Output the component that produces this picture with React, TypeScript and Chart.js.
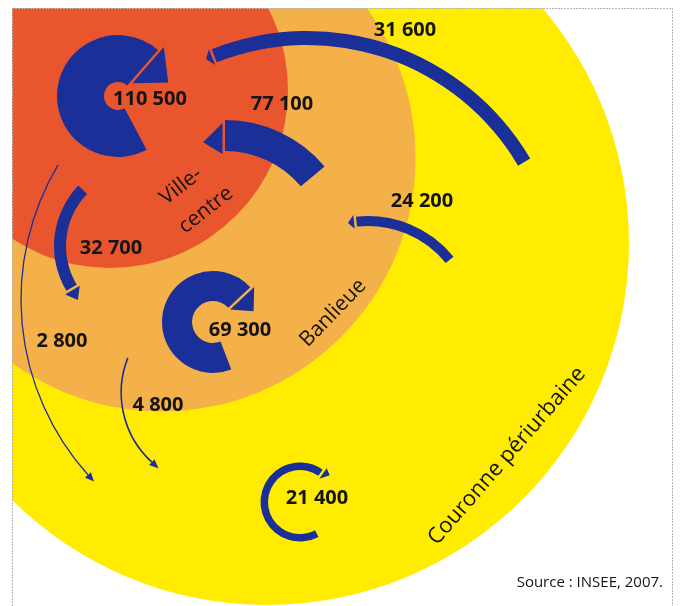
import React, { useEffect, useRef } from 'react';
import { Chart, registerables } from 'chart.js';

Chart.register(...registerables);

// ---- data ----
const zoneNames = ['Ville-centre', 'Banlieue', 'Couronne périurbaine'];
const flowValues = [110500, 77100, 31600, 24200, 32700, 69300, 2800, 4800, 21400];
const flowFrom = ['Ville-centre', 'Banlieue', 'Couronne périurbaine', 'Couronne périurbaine', 'Ville-centre', 'Banlieue', 'Ville-centre', 'Banlieue', 'Couronne périurbaine'];
const flowTo = ['Ville-centre', 'Ville-centre', 'Ville-centre', 'Banlieue', 'Banlieue', 'Banlieue', 'Couronne périurbaine', 'Couronne périurbaine', 'Couronne périurbaine'];
const sourceText = 'Source : INSEE, 2007.';

// ---- layout / style (not data) ----
const W = 683;
const H = 606;
const zoneColors = ['#E9552D', '#F4B049', '#FFEC00'];
const zoneGeom = [
  { cx: 110, cy: 90, r: 178 },
  { cx: 161.5, cy: 157.5, r: 254 },
  { cx: 267, cy: 243, r: 362 },
];
const zoneLabelGeom = [
  { lines: ['Ville-', 'centre'], pos: [[181, 186], [206, 210]], rot: -38, size: 21 },
  { lines: ['Banlieue'], pos: [[333, 313]], rot: -46, size: 21 },
  { lines: ['Couronne périurbaine'], pos: [[507, 456]], rot: -49, size: 22 },
];
const frame = { x0: 12, y0: 8, x1: 672, y1: 606 };
const BLUE = '#1B2F98';

type Geom = any;
const flowGeom: Geom[] = [
  { kind: 'band', cx: 118, cy: 96, rIn: 14, rOut: 61, a0: 62, a1: 311, head: 'end', hA: 19, hB: 67, tipDeg: 345, tipR: 52, lx: 150, ly: 99 },
  { kind: 'band', cx: 225, cy: 250, rIn: 99, rOut: 130, a0: -90, a1: -40, head: 'start', hA: 96, hB: 127, tipDeg: -101.5, tipR: 110, lx: 282, ly: 104 },
  { kind: 'band', cx: 307, cy: 290, rIn: 245, rOut: 259, a0: -111.6, a1: -30.5, head: 'start', hA: 243, hB: 260, tipDeg: -113.6, tipR: 252, lx: 405, ly: 30 },
  { kind: 'band', cx: 368, cy: 326, rIn: 100, rOut: 110, a0: -96.3, a1: -39, head: 'start', hA: 98, hB: 112, tipDeg: -101, tipR: 105, lx: 422, ly: 201 },
  { kind: 'band', cx: 141, cy: 246, rIn: 75, rOut: 87, a0: 149, a1: 224, head: 'start', hA: 73, hB: 90, tipDeg: 139.5, tipR: 83, lx: 111, ly: 248 },
  { kind: 'band', cx: 213, cy: 322, rIn: 21, rOut: 51, a0: 69, a1: 317, head: 'end', hA: 21, hB: 54, tipDeg: 345, tipR: 42, lx: 240, ly: 330 },
  { kind: 'line', cx: 284, cy: 299.5, r: 263, a0: 210.8, a1: 138.2, w: 1.3, lx: 62, ly: 341 },
  { kind: 'line', cx: 215.5, cy: 392.6, r: 94.3, a0: 201.6, a1: 132.5, w: 1.6, lx: 158, ly: 405 },
  { kind: 'band', cx: 300, cy: 502, rIn: 32, rOut: 39.5, a0: 62, a1: 305, head: 'end', hA: 30, hB: 43, tipDeg: 318, tipR: 40, lx: 317, ly: 498 },
];

const fmt = (v: number) => String(v).replace(/\B(?=(\d{3})+(?!\d))/g, ' ');
const rad = (d: number) => (d * Math.PI) / 180;

const diagramPlugin = {
  id: 'flowDiagram',
  beforeDatasetsDraw(chart: any) {
    const ctx = chart.ctx as CanvasRenderingContext2D;
    const xs = chart.scales.x;
    const ys = chart.scales.y;
    const px = (v: number) => xs.getPixelForValue(v);
    const py = (v: number) => ys.getPixelForValue(v);
    const pr = (r: number) => Math.abs(xs.getPixelForValue(r) - xs.getPixelForValue(0));
    const polar = (cx: number, cy: number, r: number, deg: number) => [
      px(cx) + pr(r) * Math.cos(rad(deg)),
      py(cy) + pr(r) * Math.sin(rad(deg)),
    ];

    ctx.save();
    // white page
    ctx.fillStyle = '#ffffff';
    ctx.fillRect(0, 0, chart.width, chart.height);

    // zones
    ctx.save();
    ctx.beginPath();
    ctx.rect(px(frame.x0), py(frame.y0), px(frame.x1) - px(frame.x0), py(frame.y1) - py(frame.y0));
    ctx.clip();
    for (let i = zoneNames.length - 1; i >= 0; i--) {
      const g = zoneGeom[i];
      ctx.beginPath();
      ctx.arc(px(g.cx), py(g.cy), pr(g.r), 0, Math.PI * 2);
      ctx.fillStyle = zoneColors[i];
      ctx.fill();
    }
    ctx.restore();

    // frame
    ctx.save();
    ctx.strokeStyle = '#b5b5b5';
    ctx.lineWidth = 1;
    ctx.setLineDash([2, 1]);
    ctx.beginPath();
    ctx.moveTo(px(frame.x0) + 0.5, py(frame.y1));
    ctx.lineTo(px(frame.x0) + 0.5, py(frame.y0) + 0.5);
    ctx.lineTo(px(frame.x1) + 0.5, py(frame.y0) + 0.5);
    ctx.lineTo(px(frame.x1) + 0.5, py(frame.y1));
    ctx.stroke();
    ctx.restore();

    // flows
    ctx.fillStyle = BLUE;
    ctx.strokeStyle = BLUE;
    flowValues.forEach((v, i) => {
      const g = flowGeom[i];
      const cx = px(g.cx);
      const cy = py(g.cy);
      if (g.kind === 'band') {
        ctx.beginPath();
        ctx.arc(cx, cy, pr(g.rOut), rad(g.a0), rad(g.a1), false);
        ctx.arc(cx, cy, pr(g.rIn), rad(g.a1), rad(g.a0), true);
        ctx.closePath();
        ctx.fill();
        // arrow head with a small gap
        const endDeg = g.head === 'end' ? g.a1 : g.a0;
        const sgn = g.head === 'end' ? 1 : -1;
        const t = [-Math.sin(rad(endDeg)) * sgn, Math.cos(rad(endDeg)) * sgn];
        const gap = 2.5;
        const b1 = polar(g.cx, g.cy, g.hA, endDeg);
        const b2 = polar(g.cx, g.cy, g.hB, endDeg);
        const tip = polar(g.cx, g.cy, g.tipR, g.tipDeg);
        ctx.beginPath();
        ctx.moveTo(b1[0] + t[0] * gap, b1[1] + t[1] * gap);
        ctx.lineTo(b2[0] + t[0] * gap, b2[1] + t[1] * gap);
        ctx.lineTo(tip[0], tip[1]);
        ctx.closePath();
        ctx.fill();
      } else {
        ctx.lineWidth = g.w;
        ctx.beginPath();
        ctx.arc(cx, cy, pr(g.r), rad(g.a0), rad(g.a1), g.a1 < g.a0);
        ctx.stroke();
        const sgn = g.a1 < g.a0 ? -1 : 1;
        const d = [-Math.sin(rad(g.a1)) * sgn, Math.cos(rad(g.a1)) * sgn];
        const e = polar(g.cx, g.cy, g.r, g.a1);
        const L = 9;
        const hw = 4;
        ctx.beginPath();
        ctx.moveTo(e[0] + d[0] * L, e[1] + d[1] * L);
        ctx.lineTo(e[0] - d[1] * hw, e[1] + d[0] * hw);
        ctx.lineTo(e[0] + d[1] * hw, e[1] - d[0] * hw);
        ctx.closePath();
        ctx.fill();
      }
    });

    // value labels
    ctx.fillStyle = '#141414';
    ctx.textAlign = 'center';
    ctx.textBaseline = 'middle';
    ctx.font = 'bold 20px "Open Sans"';
    flowValues.forEach((v, i) => {
      const g = flowGeom[i];
      ctx.fillText(fmt(v), px(g.lx), py(g.ly));
    });

    // zone labels
    zoneNames.forEach((name, i) => {
      const z = zoneLabelGeom[i];
      ctx.font = `${z.size}px "Open Sans"`;
      z.lines.forEach((line: string, j: number) => {
        ctx.save();
        ctx.translate(px(z.pos[j][0]), py(z.pos[j][1]));
        ctx.rotate(rad(z.rot));
        ctx.fillText(line, 0, 0);
        ctx.restore();
      });
    });

    // source
    ctx.font = '15px "Open Sans"';
    ctx.textAlign = 'right';
    ctx.textBaseline = 'alphabetic';
    ctx.fillText(sourceText, px(663), py(587));

    ctx.restore();
  },
};

export default function App() {
  const ref = useRef<HTMLCanvasElement | null>(null);
  useEffect(() => {
    document.body.style.margin = '0';
    if (!ref.current) return;
    const chart = new Chart(ref.current, {
      type: 'scatter',
      data: {
        datasets: [
          {
            label: 'flux',
            data: flowGeom.map((g) => ({ x: g.lx, y: g.ly })),
            pointRadius: 0,
            pointHoverRadius: 0,
            showLine: false,
          },
        ],
      },
      options: {
        responsive: false,
        animation: false,
        events: [],
        layout: { padding: 0 },
        plugins: { legend: { display: false }, tooltip: { enabled: false }, title: { display: false } },
        scales: {
          x: { type: 'linear', min: 0, max: W, display: false },
          y: { type: 'linear', min: 0, max: H, reverse: true, display: false },
        },
      },
      plugins: [diagramPlugin],
    });
    return () => chart.destroy();
  }, []);
  return (
    <div style={{ position: 'absolute', left: 0, top: 0, width: W, height: H }}>
      <canvas ref={ref} width={W} height={H} style={{ display: 'block', width: W, height: H }} />
    </div>
  );
}
